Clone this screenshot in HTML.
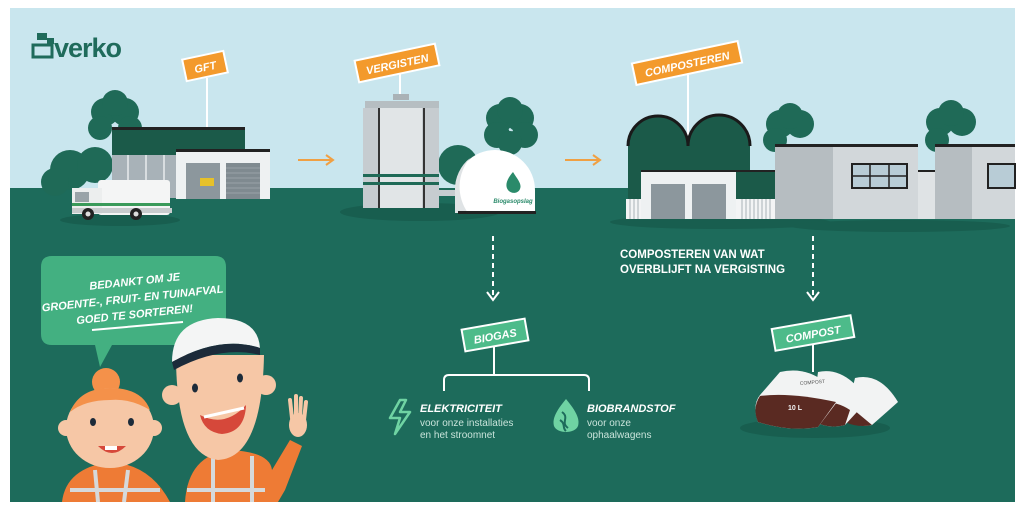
<!DOCTYPE html>
<html><head><meta charset="utf-8"><style>
html,body{margin:0;padding:0;background:#fff;}
svg{display:block;}
text{font-family:"Liberation Sans",sans-serif;}
</style></head><body>
<svg width="1024" height="511" viewBox="0 0 1024 511" xmlns="http://www.w3.org/2000/svg">
<rect width="1024" height="511" fill="#fff"/>
<rect x="10" y="8" width="1005" height="494" fill="#c9e6ee"/>
<rect x="10" y="188" width="1005" height="314" fill="#1d6b5b"/>

<!-- logo -->
<rect x="37" y="33" width="10" height="7" fill="#1f6b5b"/>
<rect x="47" y="38" width="7" height="6" fill="#1f6b5b"/>
<rect x="33" y="45" width="19" height="12" fill="none" stroke="#1f6b5b" stroke-width="3"/>
<text x="54" y="57" font-size="27" font-weight="bold" fill="#1f6b5b" letter-spacing="-1">verko</text>

<!-- GFT -->
<g fill="#1f6a57">
<circle cx="105" cy="112" r="14"/><circle cx="125" cy="112" r="14"/><circle cx="115" cy="103" r="13"/><circle cx="100" cy="128" r="12"/><circle cx="130" cy="128" r="12"/>
<circle cx="70" cy="170" r="20"/><circle cx="95" cy="165" r="18"/><circle cx="55" cy="182" r="14"/>
</g>
<line x1="207" y1="78" x2="207" y2="128" stroke="#fff" stroke-width="2"/>
<g transform="rotate(-12 205 66)"><rect x="184" y="55" width="42" height="22" fill="#f39a2c" stroke="#fff" stroke-width="2"/><text x="205" y="71" font-size="11" font-weight="bold" font-style="italic" fill="#fff" text-anchor="middle">GFT</text></g>
<rect x="112" y="127" width="133" height="28" fill="#1b5a49"/>
<rect x="112" y="127" width="133" height="3" fill="#222"/>
<rect x="112" y="155" width="66" height="43" fill="#a8b2b8"/>
<g stroke="#d8dde0" stroke-width="2"><line x1="128" y1="155" x2="128" y2="198"/><line x1="146" y1="155" x2="146" y2="198"/><line x1="164" y1="155" x2="164" y2="198"/></g>
<rect x="176" y="150" width="94" height="49" fill="#eef1f2"/>
<rect x="176" y="149" width="94" height="3" fill="#222"/>
<rect x="186" y="163" width="34" height="36" fill="#8c979d"/>
<rect x="226" y="163" width="34" height="36" fill="#7f8a90"/>
<g stroke="#9aa3a8" stroke-width="1"><line x1="226" y1="168" x2="260" y2="168"/><line x1="226" y1="173" x2="260" y2="173"/><line x1="226" y1="178" x2="260" y2="178"/><line x1="226" y1="183" x2="260" y2="183"/><line x1="226" y1="188" x2="260" y2="188"/><line x1="226" y1="193" x2="260" y2="193"/></g>
<rect x="200" y="178" width="14" height="8" fill="#e6c12a"/>
<!-- truck -->
<ellipse cx="120" cy="220" rx="60" ry="6" fill="#185e4f"/>
<rect x="98" y="180" width="72" height="35" rx="3" fill="#f4f5f5"/>
<rect x="72" y="188" width="30" height="26" fill="#eceeee"/>
<rect x="75" y="192" width="14" height="10" fill="#99a3a8"/>
<rect x="72" y="203" width="98" height="3" fill="#3a9a5a"/>
<rect x="72" y="208" width="100" height="5" fill="#c8ccce"/>
<circle cx="88" cy="214" r="6" fill="#222"/><circle cx="136" cy="214" r="6" fill="#222"/>
<circle cx="88" cy="214" r="2.5" fill="#ddd"/><circle cx="136" cy="214" r="2.5" fill="#ddd"/>
<!-- arrow -->
<g stroke="#f0a043" stroke-width="2" fill="none"><line x1="298" y1="160" x2="332" y2="160"/><polyline points="326,155 333,160 326,165"/></g>

<!-- VERGISTEN -->
<ellipse cx="420" cy="212" rx="80" ry="9" fill="#185e4f"/>
<g fill="#1f6a57">
<circle cx="500" cy="118" r="14"/><circle cx="520" cy="118" r="14"/><circle cx="510" cy="110" r="13"/><circle cx="497" cy="135" r="13"/><circle cx="525" cy="135" r="13"/><circle cx="510" cy="143" r="12"/>
<circle cx="458" cy="165" r="20"/>
</g>
<line x1="400" y1="74" x2="400" y2="98" stroke="#fff" stroke-width="2"/>
<g transform="rotate(-12 397 63)"><rect x="356" y="52" width="82" height="22" fill="#f39a2c" stroke="#fff" stroke-width="2"/><text x="397" y="68" font-size="11" font-weight="bold" font-style="italic" fill="#fff" text-anchor="middle">VERGISTEN</text></g>
<rect x="393" y="94" width="16" height="6" fill="#aab2b6"/>
<rect x="365" y="101" width="74" height="8" fill="#b6bec2"/>
<rect x="363" y="108" width="76" height="100" fill="#c6ccd0"/>
<rect x="380" y="108" width="42" height="100" fill="#e1e5e7"/>
<line x1="379" y1="108" x2="379" y2="208" stroke="#333" stroke-width="2"/>
<line x1="424" y1="108" x2="424" y2="208" stroke="#333" stroke-width="2"/>
<rect x="363" y="174" width="76" height="3" fill="#1f6a57"/>
<rect x="363" y="182" width="76" height="3" fill="#1f6a57"/>
<rect x="438" y="190" width="20" height="6" fill="#c6ccd0"/>
<path d="M455 213 L455 190 A40 40 0 0 1 535 190 L535 213 Z" fill="#fff"/>
<path d="M455 213 L455 190 A40 40 0 0 1 470 158 A45 45 0 0 0 468 213 Z" fill="#dfe3e5"/>
<rect x="458" y="211" width="78" height="3" fill="#222"/>
<path d="M513 172 C506 180 505 186 508 190 C511 194 518 194 520 189 C522 184 518 180 513 172 Z" fill="#2a8a6a"/>
<text x="513" y="203" font-size="6" font-style="italic" font-weight="bold" fill="#2a8a6a" text-anchor="middle">Biogasopslag</text>
<g stroke="#f0a043" stroke-width="2" fill="none"><line x1="565" y1="160" x2="599" y2="160"/><polyline points="593,155 600,160 593,165"/></g>
<line x1="493" y1="236" x2="493" y2="296" stroke="#fff" stroke-width="2" stroke-dasharray="5,4"/>
<polyline points="487,292 493,300 499,292" stroke="#fff" stroke-width="2" fill="none"/>

<!-- COMPOSTEREN -->
<ellipse cx="720" cy="222" rx="110" ry="7" fill="#185e4f"/>
<ellipse cx="900" cy="226" rx="110" ry="6" fill="#185e4f"/>
<g fill="#1f6a57">
<circle cx="780" cy="124" r="14"/><circle cx="800" cy="124" r="14"/><circle cx="790" cy="116" r="13"/><circle cx="775" cy="140" r="12"/>
<circle cx="940" cy="122" r="14"/><circle cx="962" cy="122" r="14"/><circle cx="951" cy="113" r="13"/><circle cx="937" cy="140" r="12"/>
</g>
<line x1="688" y1="75" x2="688" y2="145" stroke="#fff" stroke-width="2"/>
<g transform="rotate(-12 687 63)"><rect x="633" y="52" width="108" height="22" fill="#f39a2c" stroke="#fff" stroke-width="2"/><text x="687" y="68" font-size="11" font-weight="bold" font-style="italic" fill="#fff" text-anchor="middle">COMPOSTEREN</text></g>
<path d="M628 200 L628 145 A30 30 0 0 1 688 145 A30 30 0 0 1 750 145 L750 200 Z" fill="#1b5a49"/>
<path d="M628 146 A30 30 0 0 1 688 146 A30 30 0 0 1 750 146" fill="none" stroke="#1a1a1a" stroke-width="3"/>
<rect x="736" y="171" width="75" height="30" fill="#1b5a49"/>
<rect x="736" y="170" width="75" height="2" fill="#222"/>
<rect x="626" y="199" width="186" height="20" fill="#f3f4f5"/>
<g stroke="#aab2b6" stroke-width="1">
<line x1="630" y1="199" x2="630" y2="219"/><line x1="634" y1="199" x2="634" y2="219"/><line x1="638" y1="199" x2="638" y2="219"/>
<line x1="742" y1="199" x2="742" y2="219"/><line x1="746" y1="199" x2="746" y2="219"/><line x1="750" y1="199" x2="750" y2="219"/><line x1="754" y1="199" x2="754" y2="219"/><line x1="758" y1="199" x2="758" y2="219"/><line x1="762" y1="199" x2="762" y2="219"/><line x1="766" y1="199" x2="766" y2="219"/><line x1="770" y1="199" x2="770" y2="219"/></g>
<rect x="641" y="171" width="95" height="48" fill="#eef1f2"/>
<rect x="641" y="170" width="95" height="2" fill="#222"/>
<rect x="651" y="184" width="34" height="35" fill="#8c979d"/>
<rect x="692" y="184" width="34" height="35" fill="#8c979d"/>
<rect x="775" y="146" width="143" height="73" fill="#d2d7da"/>
<rect x="775" y="146" width="58" height="73" fill="#b6bdc1"/>
<rect x="775" y="144" width="143" height="3" fill="#222"/>
<rect x="852" y="164" width="55" height="24" fill="#b8ccd6" stroke="#222" stroke-width="2"/>
<line x1="870" y1="164" x2="870" y2="188" stroke="#222" stroke-width="1.5"/><line x1="889" y1="164" x2="889" y2="188" stroke="#222" stroke-width="1.5"/><line x1="852" y1="176" x2="907" y2="176" stroke="#222" stroke-width="1.5"/>
<rect x="918" y="172" width="32" height="47" fill="#dfe3e5"/>
<rect x="918" y="170" width="32" height="2" fill="#222"/>
<rect x="935" y="146" width="80" height="73" fill="#d2d7da"/>
<rect x="935" y="146" width="37" height="73" fill="#b6bdc1"/>
<rect x="935" y="144" width="80" height="3" fill="#222"/>
<rect x="988" y="164" width="27" height="24" fill="#b8ccd6" stroke="#222" stroke-width="2"/>
<text x="620" y="258" font-size="11.5" font-weight="bold" fill="#fff">COMPOSTEREN VAN WAT</text>
<text x="620" y="273" font-size="11.5" font-weight="bold" fill="#fff">OVERBLIJFT NA VERGISTING</text>
<line x1="813" y1="236" x2="813" y2="296" stroke="#fff" stroke-width="2" stroke-dasharray="5,4"/>
<polyline points="807,292 813,300 819,292" stroke="#fff" stroke-width="2" fill="none"/>

<!-- BIOGAS -->
<line x1="494" y1="345" x2="494" y2="375" stroke="#fff" stroke-width="2"/>
<g transform="rotate(-10 495 335)"><rect x="463" y="324" width="64" height="22" fill="#4dbb8a" stroke="#fff" stroke-width="2"/><text x="495" y="340" font-size="11" font-weight="bold" font-style="italic" fill="#fff" text-anchor="middle">BIOGAS</text></g>
<path d="M444 391 L444 380 Q444 375 449 375 L584 375 Q589 375 589 380 L589 391" fill="none" stroke="#fff" stroke-width="2"/>
<path d="M400 400 L390 418 L400 418 L395 434 L410 412 L400 412 L406 400 Z" fill="none" stroke="#6fd3a3" stroke-width="2.5" stroke-linejoin="round"/>
<text x="420" y="412" font-size="11" font-weight="bold" font-style="italic" fill="#fff">ELEKTRICITEIT</text>
<text x="420" y="426" font-size="10" fill="#c9e4db">voor onze installaties</text>
<text x="420" y="438" font-size="10" fill="#c9e4db">en het stroomnet</text>
<path d="M566 399 C556 411 552 419 554 426 C557 434 575 434 578 426 C580 419 576 411 566 399 Z" fill="#6fd3a3"/>
<path d="M562 412 C570 418 560 422 568 428 M560 420 C566 424 562 428 566 431" stroke="#1d6b5b" stroke-width="2" fill="none"/>
<text x="587" y="412" font-size="11" font-weight="bold" font-style="italic" fill="#fff">BIOBRANDSTOF</text>
<text x="587" y="426" font-size="10" fill="#c9e4db">voor onze</text>
<text x="587" y="438" font-size="10" fill="#c9e4db">ophaalwagens</text>

<!-- COMPOST -->
<ellipse cx="815" cy="428" rx="75" ry="10" fill="#185e4f"/>
<line x1="813" y1="345" x2="813" y2="372" stroke="#fff" stroke-width="2"/>
<g transform="rotate(-10 813 333)"><rect x="773" y="322" width="80" height="22" fill="#4dbb8a" stroke="#fff" stroke-width="2"/><text x="813" y="338" font-size="11" font-weight="bold" font-style="italic" fill="#fff" text-anchor="middle">COMPOST</text></g>
<path d="M855 378 Q880 372 898 402 L872 425 Q858 428 845 420 Z" fill="#f2f3f3"/>
<path d="M848 405 L872 425 Q858 428 845 422 Z" fill="#5a2a22"/>
<path d="M818 372 Q845 366 868 400 L845 425 Q828 430 812 420 Z" fill="#f2f3f3"/>
<path d="M815 402 Q835 400 850 410 L845 425 Q828 430 812 420 Z" fill="#5a2a22"/>
<path d="M780 372 Q815 364 840 398 L818 427 Q790 432 758 422 Q752 405 760 395 Z" fill="#f2f3f3"/>
<path d="M760 396 Q790 392 836 402 L818 427 Q790 432 758 422 Q752 408 760 396 Z" fill="#5a2a22"/>
<text x="800" y="385" font-size="5" fill="#555" transform="rotate(-5 800 385)">COMPOST</text>
<text x="788" y="410" font-size="7" font-weight="bold" fill="#f2f3f3">10 L</text>

<!-- speech bubble -->
<path d="M52 256 L215 256 Q226 256 226 267 L226 334 Q226 345 215 345 L112 345 L100 367 L95 345 L52 345 Q41 345 41 334 L41 267 Q41 256 52 256 Z" fill="#43b081"/>
<g font-size="11" font-weight="bold" font-style="italic" fill="#fff" text-anchor="middle">
<text x="135" y="285" transform="rotate(-6 135 285)">BEDANKT OM JE</text>
<text x="133" y="302" transform="rotate(-6 133 302)">GROENTE-, FRUIT- EN TUINAFVAL</text>
<text x="135" y="318" transform="rotate(-6 135 318)">GOED TE SORTEREN!</text>
</g>
<path d="M92 330 L183 322" stroke="#fff" stroke-width="2"/>

<!-- girl -->
<path d="M62 502 Q66 468 110 462 Q150 464 170 502 Z" fill="#ee7b35"/>
<path d="M95 470 L98 502 M128 470 L124 502 M70 490 L160 490" stroke="#d6d9da" stroke-width="4"/>
<circle cx="106" cy="382" r="14" fill="#f4914a"/>
<ellipse cx="110" cy="428" rx="44" ry="40" fill="#f6c7a6"/>
<path d="M70 412 Q80 388 110 388 Q142 388 150 410 Q130 398 110 400 Q85 400 70 412 Z" fill="#f4914a"/>
<circle cx="66" cy="428" r="8" fill="#f6c7a6"/><circle cx="154" cy="428" r="8" fill="#f6c7a6"/>
<ellipse cx="93" cy="422" rx="3" ry="4" fill="#1c2b3a"/><ellipse cx="131" cy="422" rx="3" ry="4" fill="#1c2b3a"/>
<path d="M98 446 Q112 460 126 446 Z" fill="#d6483a"/>
<rect x="105" y="446" width="12" height="4" fill="#fff"/>
<!-- boy -->
<path d="M185 502 Q188 455 230 450 Q270 452 272 470 L290 440 L302 446 L285 490 L278 502 Z" fill="#ee7b35"/>
<path d="M213 456 L213 502 M252 456 L252 502 M187 490 L265 490" stroke="#d6d9da" stroke-width="4"/>
<path d="M292 418 L290 400 M296 416 L296 396 M300 418 L301 398 M304 420 L306 402" stroke="#f6c7a6" stroke-width="4" stroke-linecap="round"/>
<ellipse cx="298" cy="425" rx="9" ry="12" fill="#f6c7a6"/>
<path d="M176 355 Q176 455 218 460 Q262 458 264 355 Z" fill="#f6c7a6"/>
<circle cx="172" cy="395" r="10" fill="#f6c7a6"/><circle cx="266" cy="385" r="10" fill="#f6c7a6"/>
<path d="M172 362 Q172 320 218 318 Q258 318 260 348 Q220 335 172 362 Z" fill="#f4f5f5"/>
<path d="M172 362 Q220 335 260 348 L260 355 Q220 345 174 370 Z" fill="#1c2b3a"/>
<ellipse cx="195" cy="388" rx="3" ry="4.5" fill="#1c2b3a"/><ellipse cx="240" cy="378" rx="3" ry="4.5" fill="#1c2b3a"/>
<path d="M200 415 Q225 428 246 405 Q245 432 222 434 Q204 432 200 415 Z" fill="#d6483a"/>
<path d="M204 417 L244 408" stroke="#fff" stroke-width="3"/>
</svg>
</body></html>
